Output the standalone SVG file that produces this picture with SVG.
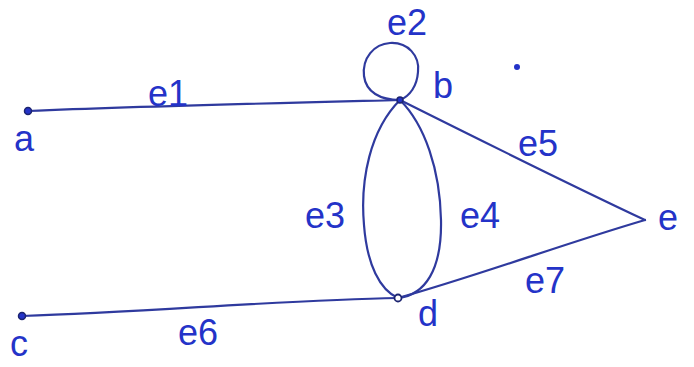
<svg xmlns="http://www.w3.org/2000/svg" width="694" height="367" viewBox="0 0 694 367">
<style>
.e{fill:none;stroke:#2f3a9e;stroke-width:2.2;stroke-linecap:round}
.lbl{font-family:"Liberation Sans",sans-serif;font-size:36px;fill:#2433c8}
.v{fill:#2433c8;stroke:#1c2470;stroke-width:1.5}
</style>
<rect width="694" height="367" fill="#fff"/>
<g id="edges">
<path id="e1" class="e" d="M28 111 C150 106 280 103 400 100"/>
<path id="e2" class="e" d="M400 100 C380 100 366 92 364 76 C362 58 374 44 390 43 C408 42 420 56 418 72 C417 86 410 96 400 100"/>
<path id="e3" class="e" d="M400 100 C370 130 360 180 364 225 C367 265 380 290 398 298"/>
<path id="e4" class="e" d="M400 100 C425 125 440 170 441 220 C442 270 425 295 398 298"/>
<path id="e5" class="e" d="M400 100 C480 140 560 180 645 220"/>
<path id="e7" class="e" d="M398 298 C480 275 560 245 645 220"/>
<path id="e6" class="e" d="M22 316 C150 312 280 300 398 298"/>
</g>
<g id="a"><circle class="v" cx="28" cy="111" r="3.5"/><text class="lbl" x="14" y="151">a</text></g>
<g id="b"><circle class="v" cx="400" cy="100" r="3"/><text class="lbl" x="433" y="98">b</text></g>
<g id="c"><circle class="v" cx="22" cy="316" r="3.5"/><text class="lbl" x="10" y="356">c</text></g>
<g id="d"><circle cx="398" cy="298" r="3.5" fill="#fff" stroke="#1c2470" stroke-width="1.8"/><text class="lbl" x="418" y="326">d</text></g>
<g id="e"><text class="lbl" x="658" y="230">e</text></g>
<g id="labels">
<text class="lbl" x="148" y="106">e1</text>
<text class="lbl" x="387" y="35" font-size="32">e2</text>
<text class="lbl" x="305" y="228">e3</text>
<text class="lbl" x="460" y="228">e4</text>
<text class="lbl" x="518" y="156">e5</text>
<text class="lbl" x="178" y="345">e6</text>
<text class="lbl" x="525" y="293">e7</text>
</g>
<circle cx="517" cy="67" r="3" fill="#2433c8"/>
</svg>
